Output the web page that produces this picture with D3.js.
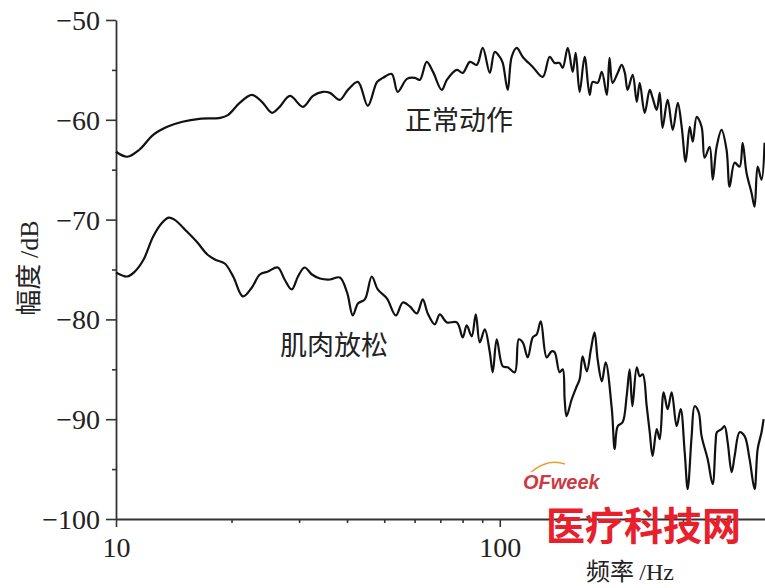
<!DOCTYPE html>
<html>
<head>
<meta charset="utf-8">
<script src="https://cdn.jsdelivr.net/npm/d3@7"></script>
<style>
  body { margin: 0; background: #fff; }
  svg { display: block; }
</style>
</head>
<body>
<svg id="chart" width="765" height="588"></svg>
<script>
// spectrum data (Hz, dB)
const normalFreq = [10.0, 10.7, 11.5, 12.5, 13.6, 14.9, 16.5, 18.7, 19.6, 21.0, 22.6, 24.0, 25.5, 26.7, 28.4, 30.7, 32.6, 34.6, 36.1, 38.3,
  40.2, 42.7, 45.3, 47.9, 49.6, 52.3, 54.2, 57.3, 60.1, 61.9, 64.5, 67.0, 70.6, 72.8, 77.3, 80.1, 83.6, 87.1, 90.3, 94.2,
  97.0, 100, 101.8, 104.9, 107.4, 110.7, 114.8, 121.9, 129.4, 134.9, 139.0, 143.2, 145.9, 150.4, 154.9, 157.7, 161.5, 166.4, 171.5, 174.6,
  179.9, 184.5, 190.1, 193.2, 196.8, 202.9, 207.9, 211.8, 215.4, 222.0, 227.5, 231.6, 238.6, 245.9, 250.2, 256.4, 261.1, 265.6, 273.8, 282.4,
  291.0, 297.9, 305.1, 312.6, 318.4, 326.0, 335.7, 341.9, 352.3, 358.9, 367.4, 378.4, 389.9, 397.2, 409.3, 421.7, 429.5, 439.5, 452.9, 461.3,
  469.9, 481.0, 489.8]
const normalDb = [-63.2, -63.7, -63.0, -61.5, -60.7, -60.2, -59.9, -59.8, -59.5, -58.3, -57.5, -58.2, -59.3, -58.7, -57.6, -58.7, -57.6, -57.2, -57.3, -58.0,
  -57.0, -56.2, -58.6, -56.2, -55.8, -55.4, -57.2, -55.9, -55.8, -56.0, -54.2, -55.2, -57.0, -56.0, -55.0, -55.3, -54.2, -54.5, -52.8, -55.3,
  -53.2, -53.7, -54.3, -57.0, -53.7, -52.8, -53.7, -54.7, -55.7, -53.7, -54.3, -54.3, -54.8, -52.8, -55.2, -53.3, -57.2, -53.7, -57.5, -56.2,
  -56.3, -55.2, -57.5, -53.8, -56.3, -55.3, -54.5, -55.3, -57.0, -55.5, -58.2, -56.3, -59.3, -57.0, -57.8, -59.0, -57.3, -60.8, -58.0, -61.0,
  -58.3, -60.7, -64.2, -60.7, -62.2, -59.7, -60.7, -63.8, -62.7, -66.0, -62.7, -61.0, -63.0, -66.7, -64.3, -64.7, -62.3, -65.3, -67.3, -68.7,
  -64.7, -66.0, -62.3]

const relaxFreq = [10.0, 10.7, 11.2, 11.8, 12.5, 13.2, 13.7, 14.2, 15.3, 16.3, 17.3, 18.1, 19.2, 20.2, 21.4, 22.6, 23.7, 24.9, 26.4, 27.5,
  28.7, 29.8, 31.0, 32.4, 34.0, 36.1, 38.3, 40.0, 41.4, 42.7, 44.5, 46.4, 48.1, 50.8, 53.6, 55.9, 58.3, 60.8, 63.0, 64.9,
  67.7, 69.8, 72.8, 77.3, 80.1, 82.0, 84.5, 86.6, 88.7, 91.4, 94.2, 95.9, 98.2, 101.8, 104.9, 109.4, 112.1, 114.8, 118.3, 121.9,
  124.8, 127.9, 132.5, 136.5, 139.0, 143.2, 145.9, 147.6, 149.3, 154.0, 158.7, 161.5, 164.4, 168.6, 172.8, 176.6, 179.9, 184.5, 188.8, 195.9,
  199.3, 202.9, 209.0, 214.1, 218.0, 221.6, 227.5, 231.6, 235.8, 241.5, 245.9, 250.2, 256.4, 261.1, 267.3, 273.8, 280.5, 289.0, 296.1, 303.3,
  308.8, 316.2, 322.0, 329.8, 335.7, 348.1, 358.7, 365.2, 368.0, 378.4, 385.3, 392.5, 402.0, 409.3, 421.7, 434.5, 447.7, 461.3, 469.9, 481.0,
  487.0]
const relaxDb = [-75.3, -75.7, -75.2, -74.0, -71.7, -70.3, -69.8, -70.0, -71.2, -72.3, -73.5, -74.0, -74.4, -75.7, -77.7, -76.8, -75.5, -75.2, -74.8, -76.0,
  -77.0, -75.7, -74.8, -75.5, -75.9, -76.0, -75.8, -77.3, -79.6, -78.4, -78.0, -75.7, -77.0, -77.9, -79.6, -78.3, -78.7, -79.4, -78.0, -79.4,
  -80.5, -79.5, -80.3, -80.3, -81.8, -80.6, -81.7, -79.5, -82.3, -81.0, -83.3, -85.3, -82.0, -84.7, -84.8, -85.3, -82.0, -82.3, -83.8, -81.8,
  -81.5, -80.2, -83.8, -83.2, -83.3, -85.3, -85.0, -88.0, -89.7, -88.0, -86.7, -86.0, -83.7, -85.2, -83.0, -81.3, -84.0, -86.2, -84.3, -89.0,
  -93.0, -90.7, -90.3, -87.7, -85.0, -88.7, -84.8, -85.7, -85.5, -88.7, -91.3, -93.7, -91.0, -92.0, -87.3, -89.0, -87.3, -90.7, -89.0, -93.3,
  -97.0, -91.7, -88.7, -89.3, -91.7, -94.0, -96.5, -92.3, -91.3, -91.0, -90.7, -92.3, -95.3, -93.7, -91.3, -91.7, -94.0, -97.0, -93.0, -91.3,
  -90.0]

const yMajor = [-100, -90, -80, -70, -60, -50]
const yMinor = [-95, -85, -75, -65, -55]
const xMajor = [10, 100]
const xMinor = [20, 30, 40, 50, 60, 70, 80, 90, 200, 300, 400, 500]

const svg = d3.select("#chart")

const x = d3.scaleLog().domain([10, 500]).range([116, 768])
const y = d3.scaleLinear().domain([-100, -50]).range([519, 20])

const serif = "'Liberation Serif', 'Times New Roman', serif"
const cjk = "'Noto Sans CJK SC', sans-serif"

// minor ticks first, then major ones over them
svg.append("g")
    .attr("transform", "translate(116,0)")
    .call(d3.axisLeft(y).tickValues(yMinor).tickSize(4).tickSizeOuter(0).tickFormat(""))
    .call(g => g.select(".domain").remove())

svg.append("g")
    .attr("transform", "translate(0,519)")
    .call(d3.axisBottom(x).tickValues(xMinor).tickSize(4).tickSizeOuter(0).tickFormat(""))
    .call(g => g.select(".domain").remove())

const yAxis = svg.append("g")
    .attr("transform", "translate(116,0)")
    .call(d3.axisLeft(y).tickValues(yMajor).tickSize(10).tickSizeOuter(0).tickPadding(6))

const xAxis = svg.append("g")
    .attr("transform", "translate(0,519)")
    .call(d3.axisBottom(x).tickValues(xMajor).tickSize(8).tickSizeOuter(0).tickPadding(10).tickFormat(d3.format("d")))

svg.selectAll(".tick line").attr("stroke", "#333").attr("stroke-width", 1.6)
svg.selectAll(".domain").attr("stroke", "#333").attr("stroke-width", 1.8)
svg.selectAll(".tick text")
    .attr("font-family", serif)
    .attr("font-size", 28)
    .attr("fill", "#222")
yAxis.selectAll(".tick text").attr("dy", "0.34em")

// curves
const line = d3.line()
    .x(d => x(d[0]))
    .y(d => y(d[1]))
    .curve(d3.curveCatmullRom.alpha(0.5))

const series = [
    d3.zip(normalFreq, normalDb),
    d3.zip(relaxFreq, relaxDb)
]

svg.selectAll(".spec")
    .data(series)
    .join("path")
        .attr("class", "spec")
        .attr("d", line)
        .attr("fill", "none")
        .attr("stroke", "#111")
        .attr("stroke-width", 2.2)
        .attr("stroke-linejoin", "round")

// curve labels
svg.append("text")
    .attr("x", 405).attr("y", 130)
    .attr("font-family", cjk).attr("font-size", 27).attr("fill", "#222")
    .text("正常动作")

svg.append("text")
    .attr("x", 280).attr("y", 355)
    .attr("font-family", cjk).attr("font-size", 27).attr("fill", "#222")
    .text("肌肉放松")

// axis titles
svg.append("text")
    .attr("transform", "translate(38,268) rotate(-90)")
    .attr("text-anchor", "middle")
    .attr("font-size", 26).attr("fill", "#222")
    .call(t => t.append("tspan").attr("font-family", cjk).text("幅度 "))
    .call(t => t.append("tspan").attr("font-family", serif).text("/dB"))

svg.append("text")
    .attr("x", 630).attr("y", 580)
    .attr("text-anchor", "middle")
    .attr("font-size", 24).attr("fill", "#222")
    .call(t => t.append("tspan").attr("font-family", cjk).text("频率 "))
    .call(t => t.append("tspan").attr("font-family", serif).text("/Hz"))

// watermark
svg.append("path")
    .attr("d", "M531,472 Q548,458 565,464")
    .attr("fill", "none")
    .attr("stroke", "#e8a030")
    .attr("stroke-width", 1.5)

svg.append("text")
    .attr("x", 523).attr("y", 489)
    .attr("font-family", "'Liberation Sans', Arial, sans-serif")
    .attr("font-size", 20).attr("font-weight", "bold").attr("font-style", "italic")
    .attr("fill", "#cc3a44")
    .text("OFweek")

svg.append("text")
    .attr("x", 546).attr("y", 540)
    .attr("font-family", cjk)
    .attr("font-size", 39).attr("font-weight", "bold")
    .attr("fill", "#e8202c")
    .text("医疗科技网")
</script>
</body>
</html>
